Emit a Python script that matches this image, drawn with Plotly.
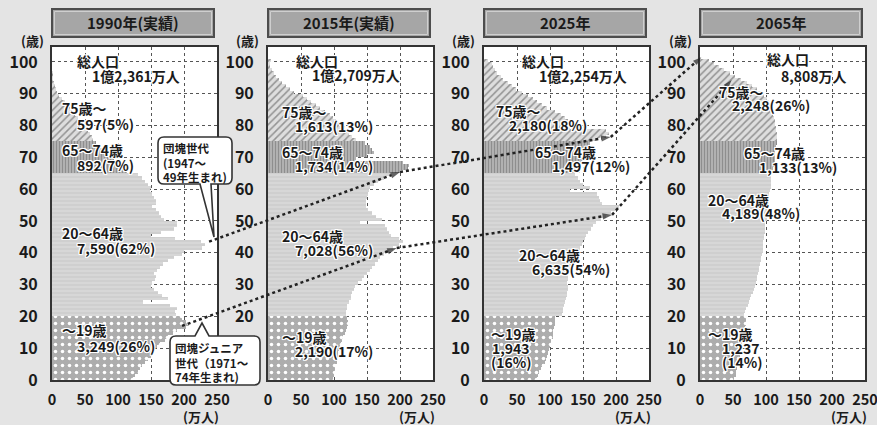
import plotly.graph_objects as go

# ---------------------------------------------------------------------------
# Data: population by single year of age (0-100), unit: 10,000 persons (万人)
# ---------------------------------------------------------------------------
AGES = list(range(101))

POP_1990 = [
    122, 125, 131, 134, 137, 141, 146, 150, 153, 156,
    159, 164, 171, 176, 183, 190, 203, 208, 203, 197,
    188, 186, 189, 179, 138, 176, 166, 160, 155, 150,
    152, 156, 157, 154, 159, 163, 168, 176, 185, 197,
    200, 228, 232, 226, 187, 150, 165, 185, 190, 190,
    170, 165, 162, 158, 152, 158, 158, 155, 152, 149,
    150, 146, 141, 137, 130, 113, 107, 103, 99, 94,
    84, 80, 75, 70, 67, 62, 60, 57, 54, 51,
    47, 43, 39, 35, 31, 27, 23, 19, 15, 11,
    8, 6, 4, 2, 1, 1, 1, 0, 0, 0,
    0,
]

POP_2015 = [
    98, 100, 101, 102, 101, 104, 105, 106, 106, 108,
    109, 110, 112, 113, 116, 118, 119, 121, 121, 120,
    118, 118, 119, 119, 123, 125, 126, 128, 130, 132,
    137, 142, 146, 150, 154, 158, 162, 166, 170, 176,
    183, 190, 198, 204, 198, 186, 183, 180, 177, 140,
    172, 163, 158, 152, 148, 148, 149, 150, 152, 153,
    155, 160, 167, 176, 187, 200, 212, 213, 205, 134,
    150, 160, 158, 155, 147, 133, 128, 123, 120, 116,
    108, 103, 98, 94, 87, 79, 72, 65, 59, 53,
    40, 33, 27, 21, 17, 12, 9, 6, 3, 2,
    5,
]

POP_2025 = [
    80, 82, 84, 86, 88, 92, 94, 96, 97, 98,
    100, 101, 102, 104, 105, 105, 106, 107, 108, 108,
    118, 119, 120, 121, 122, 124, 125, 126, 127, 128,
    126, 127, 128, 129, 130, 131, 135, 138, 141, 145,
    143, 146, 148, 150, 153, 155, 158, 162, 165, 170,
    178, 185, 193, 200, 204, 179, 176, 174, 171, 130,
    160, 150, 145, 142, 138, 145, 146, 147, 148, 150,
    143, 147, 153, 158, 160, 170, 185, 190, 185, 130,
    135, 128, 122, 117, 108, 95, 88, 81, 74, 67,
    57, 49, 42, 36, 29, 25, 20, 16, 13, 12,
    6,
]

POP_2065 = [
    52, 54, 55, 56, 57, 58, 59, 60, 61, 62,
    62, 63, 64, 65, 65, 67, 68, 69, 70, 70,
    66, 68, 70, 72, 74, 76, 78, 80, 82, 84,
    85, 86, 87, 88, 89, 90, 91, 92, 93, 94,
    95, 95, 96, 96, 97, 97, 98, 98, 99, 99,
    101, 102, 102, 103, 103, 104, 104, 105, 105, 106,
    107, 108, 108, 108, 108, 110, 111, 112, 113, 113,
    114, 114, 115, 115, 116, 116, 116, 116, 115, 115,
    114, 113, 112, 111, 110, 110, 108, 105, 101, 97,
    92, 86, 79, 71, 62, 53, 45, 37, 29, 21,
    14,
]

PANEL_TITLES = ["1990年(実績)", "2015年(実績)", "2025年", "2065年"]
POPULATIONS = [POP_1990, POP_2015, POP_2025, POP_2065]

# Age groups: (first age, last age)
GROUPS = [(0, 19), (20, 64), (65, 74), (75, 100)]

X_TICKS = [0, 50, 100, 150, 200, 250]
Y_TICKS = list(range(0, 101, 10))

# Labels drawn inside each panel: (text, x in 万人, y in age)
PANEL_LABELS = [
    [("総人口", 35, 100.2), ("1億2,361万人", 57, 95.6),
     ("75歳～", 12, 85.5), ("597(5%)", 35, 80.5),
     ("65～74歳", 12, 72.3), ("892(7%)", 35, 67.6),
     ("20～64歳", 12, 46.2), ("7,590(62%)", 35, 41.5),
     ("～19歳", 12, 15.7), ("3,249(26%)", 35, 10.6)],
    [("総人口", 39, 100.4), ("1億2,709万人", 63, 95.8),
     ("75歳～", 18, 84.2), ("1,613(13%)", 38, 80.0),
     ("65～74歳", 18, 71.7), ("1,734(14%)", 38, 67.3),
     ("20～64歳", 18, 45.3), ("7,028(56%)", 38, 40.9),
     ("～19歳", 18, 13.4), ("2,190(17%)", 38, 9.2)],
    [("総人口", 55, 100.4), ("1億2,254万人", 80, 95.6),
     ("75歳～", 15, 84.6), ("2,180(18%)", 35, 80.2),
     ("65～74歳", 74, 71.7), ("1,497(12%)", 100, 67.3),
     ("20～64歳", 50, 39.3), ("6,635(54%)", 70, 34.9),
     ("～19歳", 8, 14.4), ("1,943", 9, 10.0), ("(16%)", 8, 5.6)],
    [("総人口", 98, 101.0), ("8,808万人", 120, 95.6),
     ("75歳～", 26, 90.6), ("2,248(26%)", 45, 86.5),
     ("65～74歳", 64, 71.4), ("1,133(13%)", 86, 67.0),
     ("20～64歳", 9, 56.6), ("4,189(48%)", 30, 52.5),
     ("～19歳", 9, 14.4), ("1,237", 31, 10.0), ("(14%)", 30, 5.6)],
]

# Cohort tracks followed across the panels: (panel, x in 万人, age)
BOOMER_TRACK = [(0, 238, 43.5), (1, 200, 65.4), (2, 192, 76.4), (3, 2, 101.5)]
JUNIOR_TRACK = [(0, 197, 17.0), (1, 195, 41.5), (2, 194, 51.9), (3, 48, 94.3)]

# ---------------------------------------------------------------------------
# Layout geometry (pixels)
# ---------------------------------------------------------------------------
W, H = 877, 425
PANEL_LEFT = [52, 268, 484, 700]
PANEL_W = 165
PLOT_TOP, PLOT_BOTTOM = 47, 380
X_MAX = 250
Y_MAX = 104.7
FONT = "Noto Sans CJK JP"
INK = "#1a1a1a"
HALO = ("1px 1px 0 #fff, -1px -1px 0 #fff, 1px -1px 0 #fff, -1px 1px 0 #fff, "
        "0 1px 0 #fff, 0 -1px 0 #fff, 1px 0 0 #fff, -1px 0 0 #fff")


def px(x):
    return x / W


def py(y):
    return 1 - y / H


def to_paper(panel, value, age):
    xpix = PANEL_LEFT[panel] + value / X_MAX * PANEL_W
    ypix = PLOT_BOTTOM - age / Y_MAX * (PLOT_BOTTOM - PLOT_TOP)
    return px(xpix), py(ypix)


GROUP_STYLES = [
    dict(bg="#adadad", fg="#ffffff", shape=".", size=7, solidity=0.2),
    dict(bg="#d7d7d7", fg="#cacaca", shape="-", size=4, solidity=0.3),
    dict(bg="#b9b9b9", fg="#8e8e8e", shape="|", size=3, solidity=0.45),
    dict(bg="#dedede", fg="#939393", shape="/", size=5, solidity=0.3),
]

# Speech-bubble callouts (pixel geometry)
CALLOUTS = [
    dict(box=(158, 137, 232, 184), side="bottom", base=(200, 211), tip=(214, 237),
         lines=["団塊世代", "(1947～", "49年生まれ)"], x=161, y0=148, dy=14.5),
    dict(box=(170, 336, 260, 385), side="top", base=(195, 209), tip=(202, 323),
         lines=["団塊ジュニア", "世代（1971～", "74年生まれ)"], x=173, y0=348, dy=14.5),
]
# y tick labels of the 2015 panel that sit underneath the lower bubble
COVERED_Y_TICKS = {1: [0, 10]}

fig = go.Figure()
shapes = []
annotations = []

for i, pops in enumerate(POPULATIONS):
    sfx = "" if i == 0 else str(i + 1)
    L = PANEL_LEFT[i]

    for (a0, a1), st in zip(GROUPS, GROUP_STYLES):
        fig.add_trace(go.Bar(
            x=pops[a0:a1 + 1], y=AGES[a0:a1 + 1], orientation="h",
            width=1, offset=0,
            marker=dict(
                color=st["bg"], line=dict(width=0),
                pattern=dict(shape=st["shape"], bgcolor=st["bg"], fgcolor=st["fg"],
                             size=st["size"], solidity=st["solidity"], fillmode="replace"),
            ),
            xaxis="x" + sfx, yaxis="y" + sfx, showlegend=False, hoverinfo="skip",
        ))

    axis_common = dict(
        showgrid=True, gridcolor="#555555", griddash="dot", gridwidth=1,
        showline=True, mirror=True, linecolor="#333333", linewidth=2,
        zeroline=False, ticks="", fixedrange=True, automargin=False,
        ticklabeloverflow="allow",
    )
    hidden = COVERED_Y_TICKS.get(i, [])
    fig.layout["xaxis" + sfx] = dict(
        domain=[px(L), px(L + PANEL_W)], range=[0, X_MAX],
        tickvals=X_TICKS, anchor="y" + sfx,
        tickfont=dict(family=FONT, size=14.5, color=INK, weight="bold"),
        ticklabelstandoff=6, **axis_common)
    fig.layout["yaxis" + sfx] = dict(
        domain=[py(PLOT_BOTTOM), py(PLOT_TOP)], range=[0, Y_MAX],
        tickvals=Y_TICKS, ticktext=["" if v in hidden else str(v) for v in Y_TICKS],
        anchor="x" + sfx,
        tickfont=dict(family=FONT, size=16, color=INK, weight="bold"),
        ticklabelstandoff=9, **axis_common)

    # white plotting area
    shapes.append(dict(type="rect", xref="paper", yref="paper", layer="below",
                       x0=px(L), x1=px(L + PANEL_W), y0=py(PLOT_BOTTOM), y1=py(PLOT_TOP),
                       fillcolor="white", line=dict(width=0)))
    # panel title plate
    shapes.append(dict(type="rect", xref="paper", yref="paper", layer="above",
                       x0=px(L), x1=px(L + PANEL_W - 3), y0=py(37), y1=py(9),
                       fillcolor="#a6a6a6", line=dict(color="#4d4d4d", width=2)))
    shapes.append(dict(type="rect", xref="paper", yref="paper", layer="above",
                       x0=px(L + 2.5), x1=px(L + PANEL_W - 5.5), y0=py(34.5), y1=py(11.5),
                       fillcolor="rgba(0,0,0,0)", line=dict(color="#cfcfcf", width=1)))
    annotations.append(dict(text=PANEL_TITLES[i], xref="paper", yref="paper",
                            x=px(L + (PANEL_W - 3) / 2), y=py(23), showarrow=False,
                            xanchor="center", yanchor="middle",
                            font=dict(family=FONT, size=15, color=INK, weight="bold")))
    # axis unit labels
    annotations.append(dict(text="(歳)", xref="paper", yref="paper",
                            x=px(L - 20), y=py(41), showarrow=False,
                            xanchor="center", yanchor="middle",
                            font=dict(family=FONT, size=13, color=INK, weight="bold")))
    annotations.append(dict(text="(万人)", xref="paper", yref="paper",
                            x=px(L + PANEL_W + 4), y=py(416), showarrow=False,
                            xanchor="right", yanchor="middle",
                            font=dict(family=FONT, size=13, color=INK, weight="bold")))

    for text, xv, yv in PANEL_LABELS[i]:
        annotations.append(dict(text=text, xref="x" + sfx, yref="y" + sfx,
                                x=xv, y=yv, showarrow=False,
                                xanchor="left", yanchor="middle",
                                font=dict(family=FONT, size=14, color=INK,
                                          weight="bold", shadow=HALO)))

# ---------------------------------------------------------------------------
# Cohort tracks drawn on a transparent full-page overlay
# ---------------------------------------------------------------------------
for track in (BOOMER_TRACK, JUNIOR_TRACK):
    pts = [to_paper(*p) for p in track]
    fig.add_trace(go.Scatter(
        x=[p[0] for p in pts], y=[p[1] for p in pts], mode="lines+markers",
        line=dict(color="#222222", width=2.5, dash="dot"),
        marker=dict(symbol=["circle", "arrow", "arrow", "arrow"],
                    size=[0, 10, 10, 9], angleref="previous", color="#222222",
                    line=dict(width=0)),
        xaxis="x5", yaxis="y5", showlegend=False, hoverinfo="skip", cliponaxis=False,
    ))

fig.layout["xaxis5"] = dict(domain=[0, 1], range=[0, 1], visible=False,
                            anchor="y5", fixedrange=True, automargin=False)
fig.layout["yaxis5"] = dict(domain=[0, 1], range=[0, 1], visible=False,
                            anchor="x5", fixedrange=True, automargin=False)


def bubble_path(x0, y0, x1, y1, r, side, b1, b2, tip):
    def P(x, y):
        return f"{px(x):.5f},{py(y):.5f}"
    seg = [f"M {P(x0 + r, y0)}"]
    if side == "top":
        seg += [f"L {P(b1, y0)}", f"L {P(*tip)}", f"L {P(b2, y0)}"]
    seg += [f"L {P(x1 - r, y0)}", f"Q {P(x1, y0)} {P(x1, y0 + r)}",
            f"L {P(x1, y1 - r)}", f"Q {P(x1, y1)} {P(x1 - r, y1)}"]
    if side == "bottom":
        seg += [f"L {P(b2, y1)}", f"L {P(*tip)}", f"L {P(b1, y1)}"]
    seg += [f"L {P(x0 + r, y1)}", f"Q {P(x0, y1)} {P(x0, y1 - r)}",
            f"L {P(x0, y0 + r)}", f"Q {P(x0, y0)} {P(x0 + r, y0)}", "Z"]
    return " ".join(seg)


for c in CALLOUTS:
    x0, y0, x1, y1 = c["box"]
    shapes.append(dict(type="path", xref="paper", yref="paper", layer="above",
                       path=bubble_path(x0, y0, x1, y1, 6, c["side"], *c["base"], c["tip"]),
                       fillcolor="white", line=dict(color="#333333", width=1.6)))
    for k, line in enumerate(c["lines"]):
        annotations.append(dict(text=line, xref="paper", yref="paper",
                                x=px(c["x"]), y=py(c["y0"] + k * c["dy"]), showarrow=False,
                                xanchor="left", yanchor="middle",
                                font=dict(family=FONT, size=11.5, color=INK, weight="bold")))

fig.update_layout(
    width=W, height=H, margin=dict(l=0, r=0, t=0, b=0, autoexpand=False),
    paper_bgcolor="#e4e4e4", plot_bgcolor="rgba(0,0,0,0)",
    bargap=0, barmode="overlay",
    font=dict(family=FONT, color=INK),
    shapes=shapes, annotations=annotations,
)

fig.write_html("out.html", config={"displayModeBar": False})
